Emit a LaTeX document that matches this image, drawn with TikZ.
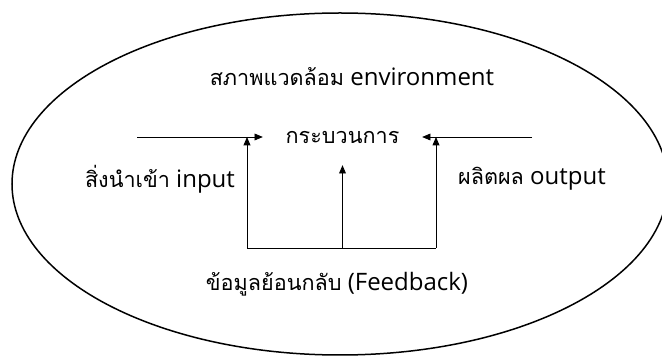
\documentclass[tikz,border=0pt]{standalone}
\usepackage{fontspec}
\setmainfont{Open Sans}
\newfontfamily\thaifont[Script=Thai,Scale=0.9]{Loma}
\usetikzlibrary{arrows}

\begin{document}
\begin{tikzpicture}[x=1pt, y=1pt, >=triangle 45, font=\fontsize{24}{28}\selectfont]

\useasboundingbox (0,0) rectangle (662,356);
\clip (0,0) rectangle (662,356);

%\draw [](0,0) ellipse (70pt and 98pt);
\draw[line width=1.5pt] (340,172) ellipse (328pt and 171pt);

  \node [] (env) at (352,279){{\thaifont สภาพแวดล้อม} environment};
  \node [minimum width=159pt, minimum height=56pt, inner sep=0pt] (proc) at (342.5,219){\thaifont กระบวนการ};
  \node [] (inp) at (160,177){{\thaifont สิ่งนำเข้า} input};
  \node [] (outp) at (532,177){{\thaifont ผลิตผล} output};
  \node [] (fb) at (337,72){{\thaifont ข้อมูลย้อนกลับ} (Feedback)};

  \coordinate (in0) at (137,219);
  \coordinate (out0) at (532,219);
  \coordinate (fbl) at (247,108);
  \coordinate (fbm) at (342.5,108);
  \coordinate (fbr) at (436,108);

  \draw[line width=0.9pt,->] (in0) -- (proc.west);
  \draw[line width=0.9pt,->] (out0) -- (proc.east);

%  feedback loop
  \draw[line width=0.9pt] (fbl) -- (fbr);
  \draw[line width=0.9pt,->] (fbl) -- (fbl |- proc.center);
  \draw[line width=0.9pt,->] (fbr) -- (fbr |- proc.center);
  \draw[line width=0.9pt,->] (fbm) -- (proc.south);

\end{tikzpicture}
\end{document}
